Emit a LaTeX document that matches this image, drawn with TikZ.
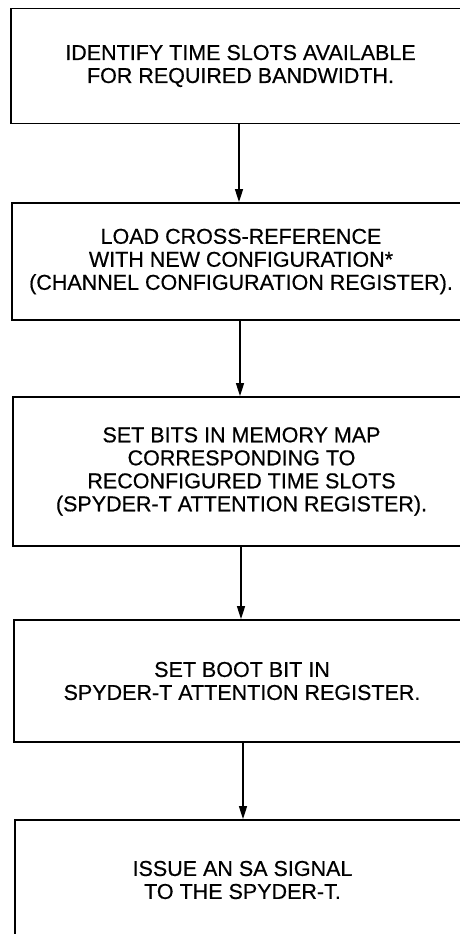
\documentclass[tikz,border=0pt]{standalone}
\usepackage{fontspec}
\setmainfont{Liberation Sans}[FakeBold=0.5]
\usetikzlibrary{arrows.meta}
\begin{document}
\begin{tikzpicture}[x=1pt,y=-1pt,
  stepbox/.style={draw, line width=1.8pt, rectangle, align=center,
    font=\fontsize{21.5}{23}\selectfont, inner sep=0pt},
  flow/.style={line width=1.3pt, -{Triangle[length=13pt,width=8pt]}}]
\useasboundingbox (0,0) rectangle (460,934);
\node[stepbox, minimum width=459pt, minimum height=115pt] (b1) at (240.5,66)
  {IDENTIFY TIME SLOTS AVAILABLE\\FOR REQUIRED BANDWIDTH.};
\node[stepbox, minimum width=458pt, minimum height=117pt] (b2) at (241,261.5)
  {LOAD CROSS-REFERENCE\\WITH NEW CONFIGURATION*\\(CHANNEL CONFIGURATION REGISTER).};
\node[stepbox, minimum width=457pt, minimum height=149pt] (b3) at (241.5,471.5)
  {SET BITS IN MEMORY MAP\\CORRESPONDING TO\\RECONFIGURED TIME SLOTS\\(SPYDER-T ATTENTION REGISTER).};
\node[stepbox, minimum width=456pt, minimum height=122pt] (b4) at (242,681)
  {SET BOOT BIT IN\\SPYDER-T ATTENTION REGISTER.};
\node[stepbox, minimum width=455pt, minimum height=120pt] (b5) at (242.5,880)
  {ISSUE AN SA SIGNAL\\TO THE SPYDER-T.};
\draw[flow] ([xshift=-1.5pt]b1.south) -- ([xshift=-1.5pt]b1.south |- b2.north);
\draw[flow] ([xshift=-1pt]b2.south) -- ([xshift=-1pt]b2.south |- b3.north);
\draw[flow] ([xshift=-0.5pt]b3.south) -- ([xshift=-0.5pt]b3.south |- b4.north);
\draw[flow] ([xshift=1pt]b4.south) -- ([xshift=1pt]b4.south |- b5.north);
\end{tikzpicture}
\end{document}
